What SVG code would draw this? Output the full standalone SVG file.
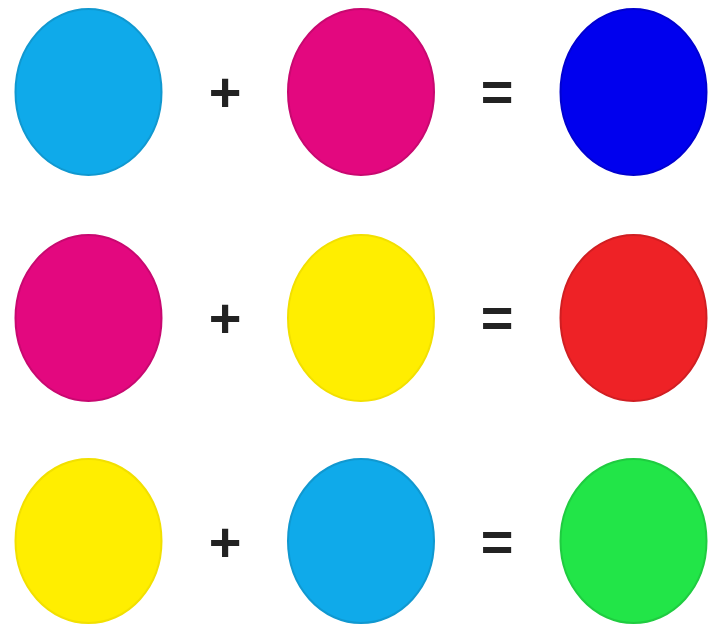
<svg xmlns="http://www.w3.org/2000/svg" width="712" height="624" viewBox="0 0 712 624">
<style>
.op{font-family:"Liberation Sans",Arial,sans-serif;font-weight:bold;font-size:56px;fill:#222;text-anchor:middle}
.c{fill:#0FAAEA;stroke:#1098D0;stroke-width:2}
.m{fill:#E3087F;stroke:#C80870;stroke-width:2}
.y{fill:#FFEE00;stroke:#F2E000;stroke-width:2}
.b{fill:#0000EE;stroke:#0000D0;stroke-width:2}
.r{fill:#EE2226;stroke:#D01E22;stroke-width:2}
.g{fill:#22E548;stroke:#1FCC40;stroke-width:2}
</style>
<rect width="712" height="624" fill="#fff"/>
<g id="row1">
<ellipse id="cyan1" class="c" cx="88.5" cy="92" rx="73" ry="83"/>
<text class="op" x="225" y="111">+</text>
<ellipse id="magenta1" class="m" cx="361" cy="92" rx="73" ry="83"/>
<text class="op" x="497" y="111">=</text>
<ellipse id="blue" class="b" cx="633.5" cy="92" rx="73" ry="83"/>
</g>
<g id="row2">
<ellipse id="magenta2" class="m" cx="88.5" cy="318" rx="73" ry="83"/>
<text class="op" x="225" y="337">+</text>
<ellipse id="yellow2" class="y" cx="361" cy="318" rx="73" ry="83"/>
<text class="op" x="497" y="337">=</text>
<ellipse id="red" class="r" cx="633.5" cy="318" rx="73" ry="83"/>
</g>
<g id="row3">
<ellipse id="yellow3" class="y" cx="88.5" cy="541" rx="73" ry="82"/>
<text class="op" x="225" y="561">+</text>
<ellipse id="cyan3" class="c" cx="361" cy="541" rx="73" ry="82"/>
<text class="op" x="497" y="561">=</text>
<ellipse id="green" class="g" cx="633.5" cy="541" rx="73" ry="82"/>
</g>
<g id="connectors"/>
</svg>
